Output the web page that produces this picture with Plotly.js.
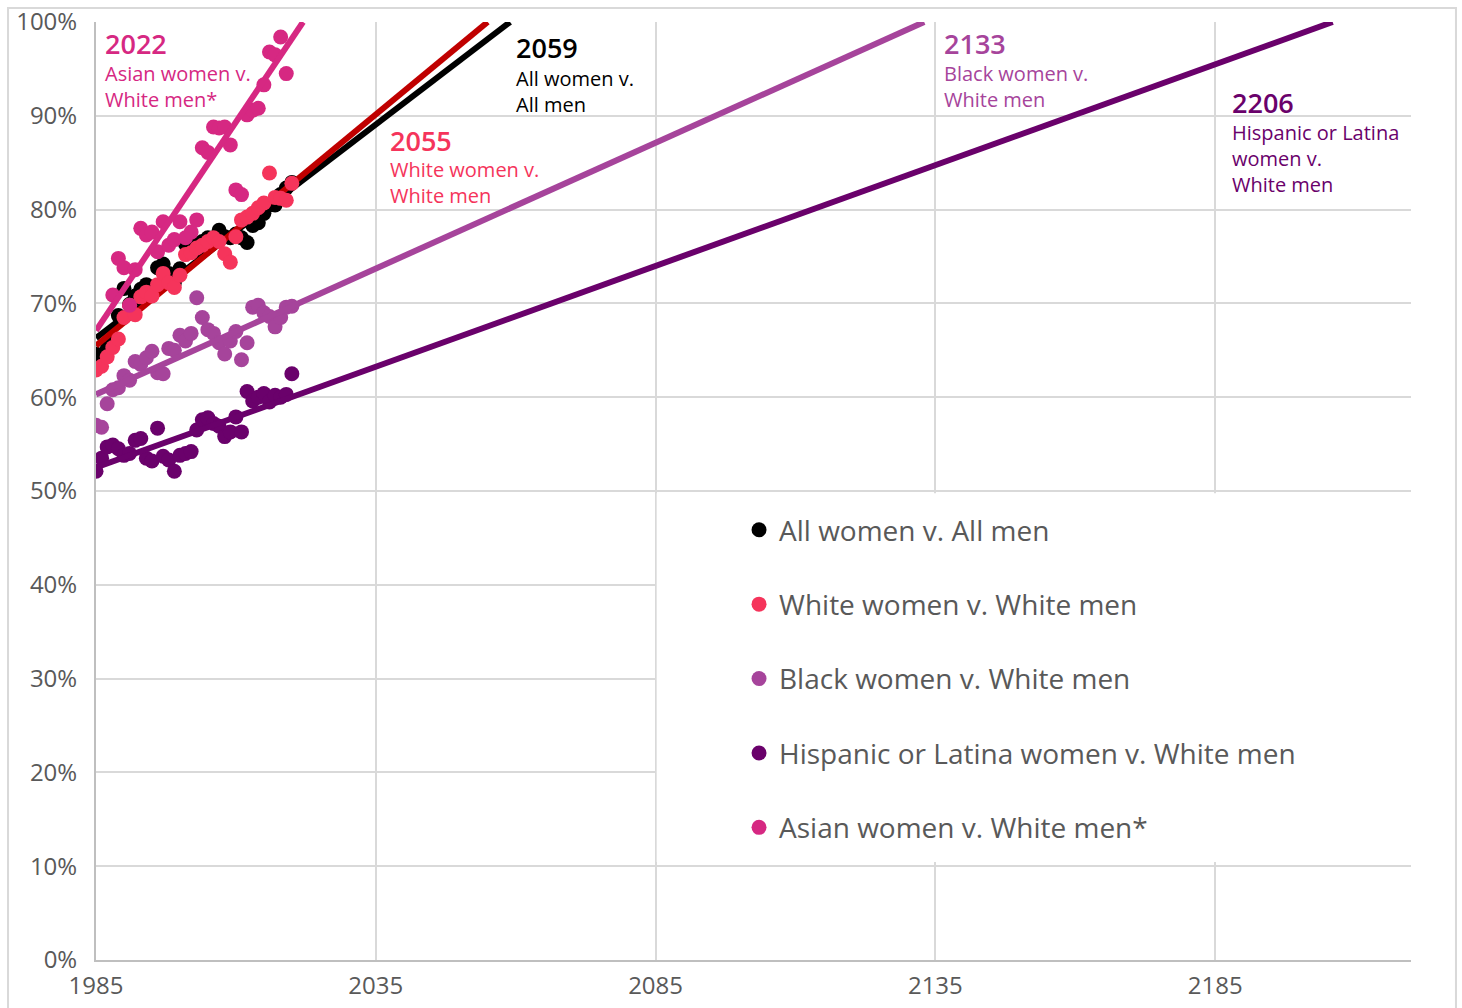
<!DOCTYPE html>
<html>
<head>
<meta charset="utf-8">
<script src="https://cdn.plot.ly/plotly-3.0.1.min.js"></script>
<style>html,body{margin:0;padding:0;background:#fff;}#chart{width:1462px;height:1008px;}</style>
</head>
<body>
<div id="chart"></div>
<script>
// ---- data ----
const years = [1985,1986,1987,1988,1989,1990,1991,1992,1993,1994,1995,1996,1997,1998,1999,2000,2001,2002,2003,2004,2005,2006,2007,2008,2009,2010,2011,2012,2013,2014,2015,2016,2017,2018,2019,2020];
const allWomen = [64.6,64.3,65.2,66.0,68.7,71.6,69.9,70.8,71.5,72.0,71.4,73.8,74.2,73.2,72.2,73.7,76.3,76.6,75.5,76.6,77.0,76.9,77.8,77.1,77.0,77.4,77.0,76.5,78.3,78.6,79.6,80.5,80.5,81.6,82.3,82.9];
const whiteWomen = [62.9,63.3,64.3,65.3,66.2,68.5,69.8,68.8,70.7,71.2,70.8,72.0,73.2,72.2,71.7,73.0,75.2,75.4,75.9,76.2,76.6,77.0,76.6,75.3,74.4,77.1,78.9,79.2,79.6,80.2,80.7,83.9,81.3,81.2,81.0,82.8];
const blackWomen = [57.0,56.8,59.3,60.8,61.0,62.3,61.8,63.8,63.5,64.2,64.9,62.6,62.5,65.2,65.0,66.6,66.0,66.8,70.6,68.5,67.2,66.8,65.8,64.6,66.0,67.0,64.0,65.8,69.6,69.8,69.0,68.6,67.5,68.5,69.6,69.7];
const hispWomen = [52.1,53.5,54.7,54.9,54.5,53.8,54.0,55.4,55.6,53.5,53.2,56.7,53.7,53.3,52.1,53.8,54.0,54.2,56.5,57.6,57.8,57.2,56.9,55.8,56.3,57.9,56.3,60.6,59.6,60.0,60.4,59.5,60.2,60.0,60.3,62.5];
const asianYears = [1988,1989,1990,1991,1992,1993,1994,1995,1996,1997,1998,1999,2000,2001,2002,2003,2004,2005,2006,2007,2008,2009,2010,2011,2012,2013,2014,2015,2016,2017,2018,2019];
const asianWomen = [70.9,74.8,73.8,69.8,73.6,78.0,77.3,77.6,75.5,78.7,76.2,76.8,78.7,77.0,77.6,78.9,86.6,86.1,88.8,88.7,88.8,86.9,82.1,81.6,90.1,90.6,90.8,93.3,96.8,96.5,98.4,94.5];

// trend lines: [start year, parity year], [start value, 100]
const trendAllX = [1985, 2059], trendAllY = [66.3, 100];
const trendWhiteX = [1985, 2055], trendWhiteY = [65.5, 100];
const trendBlackX = [1985, 2133], trendBlackY = [60.3, 100];
const trendHispX = [1985, 2206], trendHispY = [52.5, 100];
const trendAsianX = [1985, 2022], trendAsianY = [67.1, 100];

const seriesNames = ["All women v. All men","White women v. White men","Black women v. White men","Hispanic or Latina women v. White men","Asian women v. White men*"];
const parityYears = ["2022","2059","2055","2133","2206"];

const xTicks = [1985, 2035, 2085, 2135, 2185];
const yTicks = [0,10,20,30,40,50,60,70,80,90,100];
const yTickText = yTicks.map(v => v + "%");

// ---- styles ----
const C_ALL = "#000000", C_WHITE = "#f5345b", C_WHITE_LINE = "#c00000", C_BLACK = "#a6449b", C_HISP = "#6a016b", C_ASIAN = "#d62882";
const MS = 15, LW = 6;

function dots(x, y, color, name, grp) {
  return {type: "scatter", mode: "markers", x: x, y: y, name: name, legendgroup: grp,
    marker: {color: color, size: MS, line: {width: 0}}, hoverinfo: "skip"};
}
function trend(x, y, color, grp) {
  return {type: "scatter", mode: "lines", x: x, y: y, showlegend: false, legendgroup: grp,
    line: {color: color, width: LW}, hoverinfo: "skip"};
}

const traces = [
  dots(years, allWomen, C_ALL, seriesNames[0], "g1"),
  trend(trendAllX, trendAllY, C_ALL, "g1"),
  trend(trendWhiteX, trendWhiteY, C_WHITE_LINE, "g2"),
  dots(years, whiteWomen, C_WHITE, seriesNames[1], "g2"),
  dots(years, blackWomen, C_BLACK, seriesNames[2], "g3"),
  trend(trendBlackX, trendBlackY, C_BLACK, "g3"),
  dots(years, hispWomen, C_HISP, seriesNames[3], "g4"),
  trend(trendHispX, trendHispY, C_HISP, "g4"),
  dots(asianYears, asianWomen, C_ASIAN, seriesNames[4], "g5"),
  trend(trendAsianX, trendAsianY, C_ASIAN, "g5")
];

const FONT = "Open Sans, Noto Sans, sans-serif";
function yearAnn(x, y, text, color) {
  return {x: x, y: y, xref: "x", yref: "y", text: text, showarrow: false, xanchor: "left", yanchor: "middle",
    align: "left", font: {family: FONT, size: 27, color: color, weight: 600}};
}
function subAnn(x, y, text, color) {
  return {x: x, y: y, xref: "x", yref: "y", text: text, showarrow: false, xanchor: "left", yanchor: "middle",
    align: "left", font: {family: FONT, size: 20, color: color}};
}

const layout = {
  width: 1462, height: 1008,
  margin: {l: 96, r: 51, t: 22, b: 48, pad: 0},
  paper_bgcolor: "#ffffff", plot_bgcolor: "#ffffff",
  font: {family: FONT, color: "#595959"},
  xaxis: {range: [1985, 2220], tickvals: xTicks, ticktext: xTicks.map(String), showgrid: true, gridcolor: "#d9d9d9", gridwidth: 2,
    zeroline: false, showline: true, linecolor: "#bfbfbf", linewidth: 2, ticks: "", ticklabelstandoff: 3,
    tickfont: {family: FONT, size: 24, color: "#595959"}, fixedrange: true},
  yaxis: {range: [0, 100], tickvals: yTicks, ticktext: yTickText, showgrid: true, gridcolor: "#d9d9d9", gridwidth: 2,
    zeroline: false, showline: true, linecolor: "#bfbfbf", linewidth: 2, ticks: "", ticklabelstandoff: 12,
    tickfont: {family: FONT, size: 24, color: "#595959"}, fixedrange: true},
  showlegend: true,
  legend: {x: 0.489, y: 0.485, xanchor: "left", yanchor: "top", bgcolor: "rgba(255,255,255,0)",
    font: {family: FONT, size: 28, color: "#595959"}, traceorder: "grouped", tracegroupgap: 35,
    itemclick: false, itemdoubleclick: false},
  shapes: [
    {type: "rect", xref: "x", yref: "y", x0: 2085.2, x1: 2222, y0: 10.45, y1: 49.75, fillcolor: "#ffffff", line: {width: 0}, layer: "between"},
    {type: "rect", xref: "paper", yref: "paper", x0: -0.0669, x1: 1.0342, y0: -0.06, y1: 1.0149, fillcolor: "rgba(0,0,0,0)", line: {color: "#d9d9d9", width: 2}, layer: "below"}
  ],
  annotations: [
    yearAnn(1986.3, 97.76, parityYears[0], C_ASIAN),
    subAnn(1986.3, 93.1, "Asian women v.<br>White men*", C_ASIAN),
    yearAnn(2059.7, 97.23, parityYears[1], C_ALL),
    subAnn(2059.7, 92.6, "All women v.<br>All men", C_ALL),
    yearAnn(2037.2, 87.42, parityYears[2], C_WHITE),
    subAnn(2037.2, 82.85, "White women v.<br>White men", C_WHITE),
    yearAnn(2136.1, 97.76, parityYears[3], C_BLACK),
    subAnn(2136.1, 93.15, "Black women v.<br>White men", C_BLACK),
    yearAnn(2187.6, 91.47, parityYears[4], C_HISP),
    subAnn(2187.6, 85.5, "Hispanic or Latina<br>women v.<br>White men", C_HISP)
  ]
};

Plotly.newPlot("chart", traces, layout, {displayModeBar: false, staticPlot: true});
</script>
</body>
</html>
